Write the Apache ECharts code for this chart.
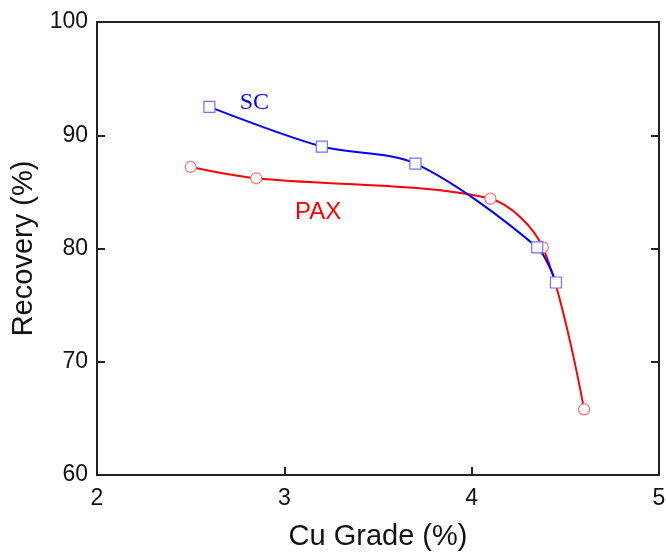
<!DOCTYPE html>
<html>
<head>
<meta charset="utf-8">
<script src="https://cdn.jsdelivr.net/npm/echarts@6/dist/echarts.min.js"></script>
<style>
  html, body { margin: 0; padding: 0; background: #fff; }
  #chart { width: 666px; height: 552px; }
</style>
</head>
<body>
<div id="chart"></div>
<script>
// Cu grade (%) vs. recovery (%) for the two collectors
const scGrade = [2.6, 3.2, 3.7, 4.35, 4.45];
const scRecovery = [92.5, 89.0, 87.5, 80.1, 77.0];
const paxGrade = [2.5, 2.85, 4.1, 4.38, 4.6];
const paxRecovery = [87.2, 86.2, 84.4, 80.1, 65.8];

// Curve labels, placed in data units
const scLabel = { text: 'SC', grade: 2.84, recovery: 92.9 };
const paxLabel = { text: 'PAX', grade: 3.18, recovery: 83.2 };

const xTicks = { min: 2, max: 5, step: 1 };
const yTicks = { min: 60, max: 100, step: 10 };

const pairs = (xs, ys) => xs.map((x, i) => [x, ys[i]]);

const axisColor = '#222';
const sans = '"Liberation Sans", Arial, sans-serif';

const chart = echarts.init(document.getElementById('chart'), null, { renderer: 'canvas' });
chart.setOption({
  animation: false,
  backgroundColor: '#fff',
  grid: { left: 97, right: 7, top: 22, bottom: 77, containLabel: false, outerBoundsMode: 'none' },
  xAxis: [{
    type: 'value', min: xTicks.min, max: xTicks.max, interval: xTicks.step,
    name: 'Cu Grade (%)', nameLocation: 'middle', nameGap: 47,
    nameTextStyle: { fontSize: 29, fontFamily: sans, color: '#111' },
    axisLine: { show: true, lineStyle: { color: axisColor, width: 2 } },
    axisTick: { show: true, inside: true, length: 8, lineStyle: { color: axisColor, width: 2 } },
    axisLabel: { fontSize: 23, fontFamily: sans, color: '#111', margin: 12 },
    splitLine: { show: false }
  }, {
    type: 'value', min: xTicks.min, max: xTicks.max, interval: xTicks.step, position: 'top',
    axisLine: { show: true, lineStyle: { color: axisColor, width: 2 } },
    axisTick: { show: false }, axisLabel: { show: false }, splitLine: { show: false }
  }],
  yAxis: [{
    type: 'value', min: yTicks.min, max: yTicks.max, interval: yTicks.step,
    name: 'Recovery (%)', nameLocation: 'middle', nameGap: 59,
    nameTextStyle: { fontSize: 29, fontFamily: sans, color: '#111' },
    axisLine: { show: true, lineStyle: { color: axisColor, width: 2 } },
    axisTick: { show: true, inside: true, length: 8, lineStyle: { color: axisColor, width: 2 } },
    axisLabel: { fontSize: 23, fontFamily: sans, color: '#111', margin: 9 },
    splitLine: { show: false }
  }, {
    type: 'value', min: yTicks.min, max: yTicks.max, interval: yTicks.step, position: 'right',
    axisLine: { show: true, lineStyle: { color: axisColor, width: 2 } },
    axisTick: { show: true, inside: true, length: 8, lineStyle: { color: axisColor, width: 2 } },
    axisLabel: { show: false }, splitLine: { show: false }
  }],
  series: [{
    name: 'PAX', type: 'line', smooth: 0.3,
    data: pairs(paxGrade, paxRecovery),
    symbol: 'circle', symbolSize: 11, showAllSymbol: true,
    lineStyle: { color: '#ff0000', width: 2 },
    itemStyle: { color: '#fff', borderColor: '#ff7070', borderWidth: 1.2 },
    z: 2,
    markPoint: {
      symbol: 'circle', symbolSize: 0,
      data: [{ coord: [paxLabel.grade, paxLabel.recovery] }],
      label: { show: true, position: 'inside', formatter: paxLabel.text,
        fontSize: 24, fontFamily: sans, color: '#ff0000' }
    }
  }, {
    name: 'SC', type: 'line', smooth: 0.3,
    data: pairs(scGrade, scRecovery),
    symbol: 'rect', symbolSize: 11, showAllSymbol: true,
    lineStyle: { color: '#0000ff', width: 2 },
    itemStyle: { color: '#fff', borderColor: '#7070ff', borderWidth: 1.2 },
    z: 3,
    markPoint: {
      symbol: 'circle', symbolSize: 0,
      data: [{ coord: [scLabel.grade, scLabel.recovery] }],
      label: { show: true, position: 'inside', formatter: scLabel.text,
        fontSize: 24, fontFamily: '"Liberation Serif", "Times New Roman", serif', color: '#0000ff' }
    }
  }]
});
</script>
</body>
</html>
